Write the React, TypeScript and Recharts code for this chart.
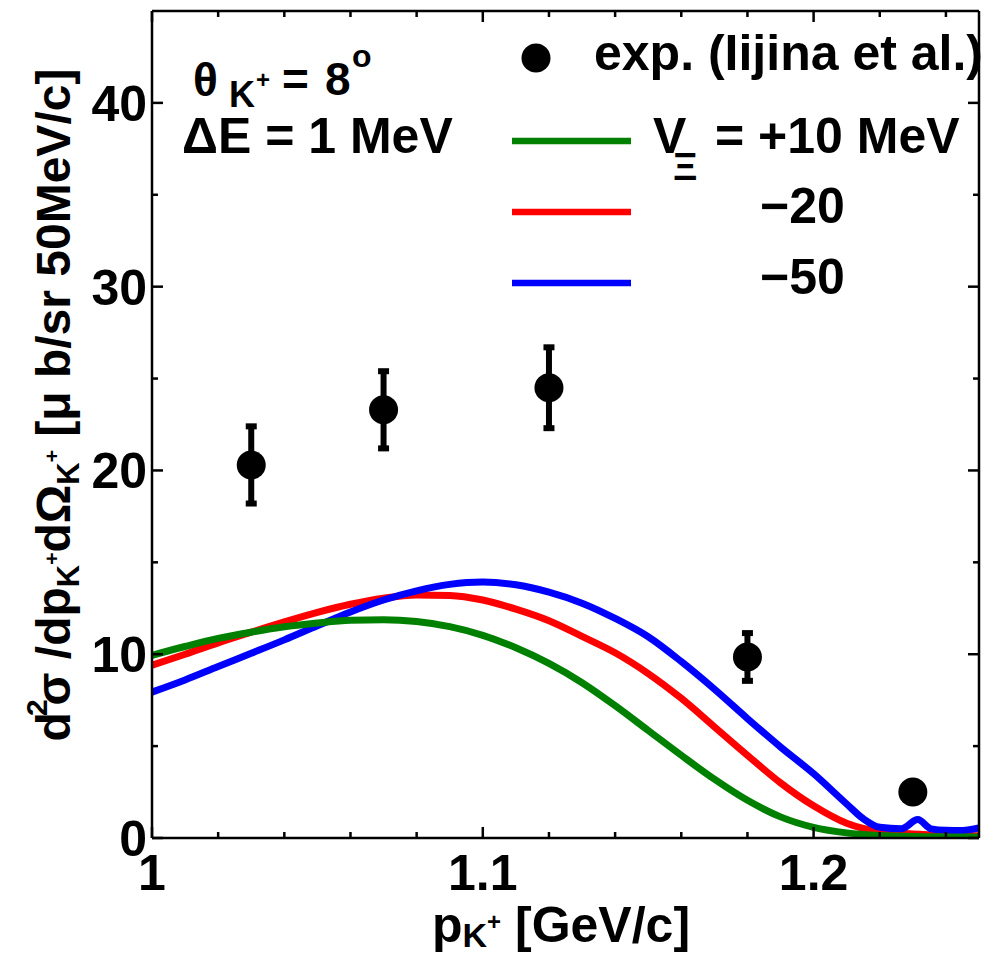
import React from 'react';
import { ComposedChart, Line, Scatter, XAxis, YAxis, ErrorBar } from 'recharts';

// V_Xi = +10 MeV (green)
const plus10X = [1.0, 1.01, 1.02, 1.03, 1.04, 1.05, 1.06, 1.07, 1.08, 1.09, 1.1, 1.11, 1.12, 1.13, 1.14, 1.15, 1.16, 1.17, 1.18, 1.19, 1.2, 1.21, 1.22, 1.23, 1.24, 1.25];
const plus10Y = [9.94, 10.42, 10.86, 11.2, 11.49, 11.7, 11.85, 11.88, 11.78, 11.5, 11.03, 10.35, 9.5, 8.45, 7.2, 5.85, 4.5, 3.2, 2.05, 1.15, 0.58, 0.28, 0.14, 0.08, 0.06, 0.05];
// V_Xi = -20 MeV (red)
const minus20X = [1.0, 1.01, 1.02, 1.03, 1.04, 1.05, 1.06, 1.07, 1.08, 1.09, 1.1, 1.11, 1.12, 1.13, 1.14, 1.15, 1.16, 1.17, 1.18, 1.19, 1.2, 1.21, 1.22, 1.23, 1.24, 1.25];
const minus20Y = [9.4, 10.0, 10.62, 11.2, 11.76, 12.28, 12.72, 13.05, 13.22, 13.2, 12.95, 12.45, 11.82, 10.97, 10.08, 8.95, 7.6, 6.05, 4.5, 3.0, 1.75, 0.8, 0.35, 0.22, 0.15, 0.12];
// V_Xi = -50 MeV (blue)
const minus50X = [1.0, 1.01, 1.02, 1.03, 1.04, 1.05, 1.06, 1.07, 1.08, 1.09, 1.1, 1.11, 1.12, 1.13, 1.14, 1.15, 1.16, 1.17, 1.18, 1.19, 1.2, 1.21, 1.215, 1.22, 1.2265, 1.2315, 1.2355, 1.24, 1.245, 1.25];
const minus50Y = [7.94, 8.6, 9.33, 10.05, 10.78, 11.55, 12.3, 12.95, 13.45, 13.8, 13.93, 13.78, 13.38, 12.78, 11.95, 10.95, 9.6, 8.1, 6.5, 4.95, 3.5, 1.85, 1.05, 0.58, 0.5, 1.0, 0.5, 0.42, 0.41, 0.55];
// experiment (Iijina et al.)
const expX = [1.03, 1.07, 1.12, 1.18, 1.23];
const expY = [20.3, 23.3, 24.5, 9.85, 2.5];
const expErr = [2.1, 2.1, 2.2, 1.3, 0.5];

const xTicks = [1.0, 1.02, 1.04, 1.06, 1.08, 1.1, 1.12, 1.14, 1.16, 1.18, 1.2, 1.22, 1.24];
const xTickLabels: Record<string, string> = { '1': '1', '1.1': '1.1', '1.2': '1.2' };
const yTicks = [0, 5, 10, 15, 20, 25, 30, 35, 40, 45];
const yTickLabels: Record<string, string> = { '0': '0', '10': '10', '20': '20', '30': '30', '40': '40' };

const toPts = (xs: number[], ys: number[]) => xs.map((x, i) => ({ x, y: ys[i] }));
const greenData = toPts(plus10X, plus10Y);
const redData = toPts(minus20X, minus20Y);
const blueData = toPts(minus50X, minus50Y);
const expData = expX.map((x, i) => ({ x, y: expY[i], err: expErr[i] }));

const FONT = '"Liberation Sans", Arial, Helvetica, sans-serif';
const AX = 2.5;

const isMajorX = (v: number) => Math.abs(v * 10 - Math.round(v * 10)) < 1e-6;
const isMajorY = (v: number) => Math.abs(v / 10 - Math.round(v / 10)) < 1e-6;

const BottomTick = (props: any) => {
  const { x, y, payload } = props;
  const v = payload.value;
  const major = isMajorX(v);
  const key = String(Math.round(v * 100) / 100);
  return (
    <g>
      <line x1={x} x2={x} y1={y} y2={y - (major ? 11 : 6)} stroke="#000" strokeWidth={AX} />
      {major && (
        <text x={x} y={y + 52} textAnchor="middle" fontSize={50} fontWeight="bold" fontFamily={FONT} fill="#000">
          {xTickLabels[key]}
        </text>
      )}
    </g>
  );
};

const TopTick = (props: any) => {
  const { x, y, payload } = props;
  const major = isMajorX(payload.value);
  return <line x1={x} x2={x} y1={y} y2={y + (major ? 11 : 6)} stroke="#000" strokeWidth={AX} />;
};

const LeftTick = (props: any) => {
  const { x, y, payload } = props;
  const v = payload.value;
  const major = isMajorY(v);
  if (v >= 45) return <g />;
  return (
    <g>
      <line x1={x} x2={x + (major ? 11 : 6)} y1={y} y2={y} stroke="#000" strokeWidth={AX} />
      {major && (
        <text x={x - 5} y={y + 18} textAnchor="end" fontSize={50} fontWeight="bold" fontFamily={FONT} fill="#000">
          {yTickLabels[String(v)]}
        </text>
      )}
    </g>
  );
};

const RightTick = (props: any) => {
  const { x, y, payload } = props;
  const v = payload.value;
  if (v >= 45) return <g />;
  const major = isMajorY(v);
  return <line x1={x} x2={x - (major ? 11 : 6)} y1={y} y2={y} stroke="#000" strokeWidth={AX} />;
};

const Dot = (props: any) => {
  const { cx, cy } = props;
  return <circle cx={cx} cy={cy} r={14.5} fill="#000" />;
};

const txt = { fontFamily: FONT, fontWeight: 'bold' as const, fill: '#000' };
const LW = 7;

export default function App() {
  return (
    <div style={{ position: 'absolute', left: 0, top: 0, width: 984, height: 955, background: '#fff' }}>
      <ComposedChart width={984} height={955} margin={{ top: 10, right: 4, left: 0, bottom: 0 }}>
        <XAxis
          dataKey="x"
          type="number"
          domain={[1, 1.25]}
          ticks={xTicks}
          interval={0}
          tick={<BottomTick />}
          tickLine={false}
          tickSize={0}
          tickMargin={0}
          height={117}
          axisLine={{ stroke: '#000', strokeWidth: AX }}
          allowDataOverflow
        />
        <XAxis
          xAxisId="top"
          orientation="top"
          dataKey="x"
          type="number"
          domain={[1, 1.25]}
          ticks={xTicks}
          interval={0}
          tick={<TopTick />}
          tickLine={false}
          tickSize={0}
          tickMargin={0}
          height={1}
          axisLine={{ stroke: '#000', strokeWidth: AX }}
          allowDataOverflow
        />
        <YAxis
          dataKey="y"
          type="number"
          domain={[0, 45]}
          ticks={yTicks}
          interval={0}
          tick={<LeftTick />}
          tickLine={false}
          tickSize={0}
          tickMargin={0}
          width={152}
          axisLine={{ stroke: '#000', strokeWidth: AX }}
          allowDataOverflow
        />
        <YAxis
          yAxisId="right"
          orientation="right"
          dataKey="y"
          type="number"
          domain={[0, 45]}
          ticks={yTicks}
          interval={0}
          tick={<RightTick />}
          tickLine={false}
          tickSize={0}
          tickMargin={0}
          width={1}
          axisLine={{ stroke: '#000', strokeWidth: AX }}
          allowDataOverflow
        />
        <Line data={redData} dataKey="y" type="monotone" stroke="#ff0000" strokeWidth={LW} dot={false} isAnimationActive={false} />
        <Line data={blueData} dataKey="y" type="monotone" stroke="#0000ff" strokeWidth={LW} dot={false} isAnimationActive={false} />
        <Line data={greenData} dataKey="y" type="monotone" stroke="#008000" strokeWidth={LW} dot={false} isAnimationActive={false} />
        <Scatter data={expData} dataKey="y" fill="#000" shape={<Dot />} isAnimationActive={false}>
          <ErrorBar dataKey="err" direction="y" width={5.5} stroke="#000" strokeWidth={6} isAnimationActive={false} />
        </Scatter>
      </ComposedChart>
      <svg width={984} height={955} style={{ position: 'absolute', left: 0, top: 0, pointerEvents: 'none' }}>
        {/* y-axis title */}
        <text transform="translate(70,405) rotate(-90)" textAnchor="middle" fontSize={48} {...txt}>
          <tspan>d</tspan>
          <tspan fontSize={30} dy={-23} dx={-4}>2</tspan>
          <tspan dy={23} dx={-6}>σ</tspan>
          <tspan> /dp</tspan>
          <tspan fontSize={31} dy={9}>K</tspan>
          <tspan fontSize={21} dy={-20}>+</tspan>
          <tspan dy={11}>dΩ</tspan>
          <tspan fontSize={31} dy={9}>K</tspan>
          <tspan fontSize={21} dy={-20}>+</tspan>
          <tspan dy={11}> [μ b/sr 50MeV/c]</tspan>
        </text>
        {/* x-axis title */}
        <text x={432} y={942} fontSize={50} {...txt}>
          <tspan>p</tspan>
          <tspan fontSize={34} dy={5}>K</tspan>
          <tspan fontSize={24} dy={-17}>+</tspan>
          <tspan dy={12}> [GeV/c]</tspan>
        </text>
        {/* annotations */}
        <text x={193} y={96} fontSize={46} {...txt}>θ</text>
        <text x={229} y={107} fontSize={36} {...txt}>K</text>
        <text x={256} y={88} fontSize={24} {...txt}>+</text>
        <text x={282} y={95} fontSize={46} {...txt}>=</text>
        <text x={325} y={95} fontSize={46} {...txt}>8</text>
        <text x={352} y={67} fontSize={32} {...txt}>o</text>
        <text x={182} y={153} fontSize={50} {...txt}>ΔE = 1 MeV</text>
        {/* legend */}
        <circle cx={536} cy={58} r={14.5} fill="#000" />
        <text x={594} y={70} fontSize={50} {...txt}>exp. (Iijina et al.)</text>
        <line x1={512} x2={631} y1={141} y2={141} stroke="#008000" strokeWidth={6.5} />
        <line x1={512} x2={631} y1={212} y2={212} stroke="#ff0000" strokeWidth={6.5} />
        <line x1={512} x2={631} y1={283} y2={283} stroke="#0000ff" strokeWidth={6.5} />
        <text x={653} y={153} fontSize={50} {...txt}>V</text>
        <text x={673} y={180} fontSize={38} {...txt}>Ξ</text>
        <text x={715} y={153} fontSize={50} {...txt}>= +10 MeV</text>
        <text x={760} y={223} fontSize={50} {...txt}>−20</text>
        <text x={760} y={294} fontSize={50} {...txt}>−50</text>
      </svg>
    </div>
  );
}
